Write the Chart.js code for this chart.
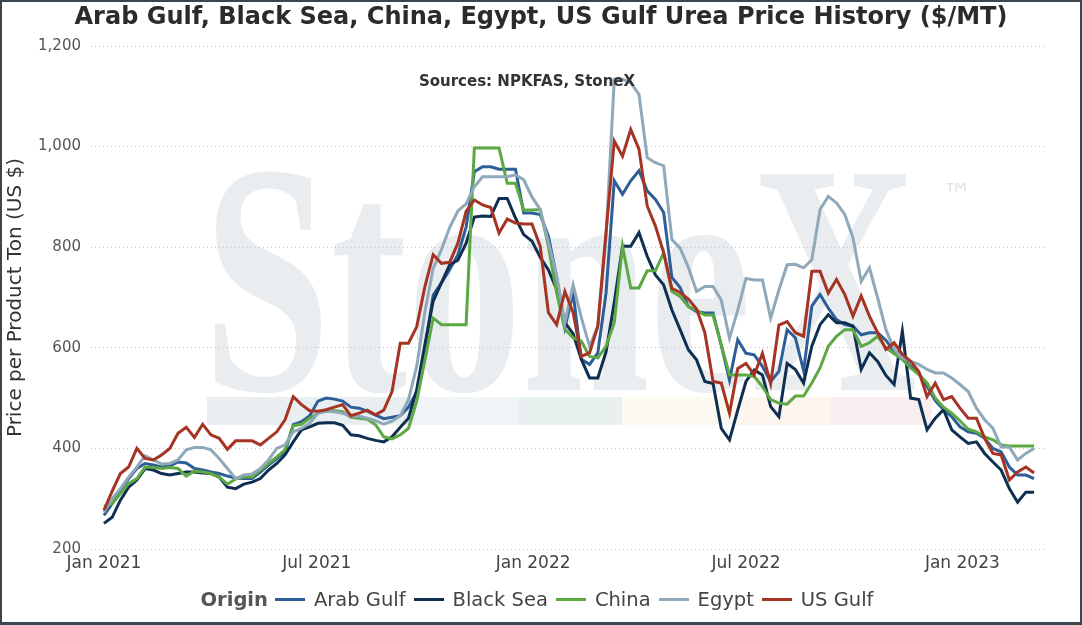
<!DOCTYPE html>
<html>
<head>
<meta charset="utf-8">
<script src="https://cdn.jsdelivr.net/npm/chart.js@4.4.0/dist/chart.umd.min.js"></script>
<style>
    html, body { margin: 0; padding: 0; background: #fff; }
    #wrap { position: relative; width: 1082px; height: 625px; overflow: hidden; }
    #frame { position: absolute; left: 0; top: 0; width: 1082px; height: 625px; box-sizing: border-box;
             border: 2px solid #3a4650; border-bottom-width: 3px; pointer-events: none; }
    #legend { position: absolute; left: 0; width: 1082px; top: 588px; display: flex; justify-content: center;
              align-items: center; font-family: "DejaVu Sans", sans-serif; font-size: 19.5px; color: #444; }
    #legend .title { font-weight: bold; color: #555; margin-right: 7px; }
    #legend .sample { display: inline-block; width: 30px; height: 3px; margin-right: 9px; }
    #legend .name { margin-right: 8px; }
</style>
</head>
<body>
<div id="wrap">
    <canvas id="ureaChart"></canvas>
    <div id="legend"></div>
    <div id="frame"></div>
</div>
<script>
const originNames = ["Arab Gulf", "Black Sea", "China", "Egypt", "US Gulf"];
const originColors = ["#2e5e98", "#0f2f52", "#5ca842", "#8fa8ba", "#a63424"];
const tickDays = [0, 181, 365, 546, 730];
const tickLabels = ["Jan 2021", "Jul 2021", "Jan 2022", "Jul 2022", "Jan 2023"];

// Wochenwerte ab 01.01.2021 ($/MT)
const arabGulf = [267, 290, 317, 340, 360, 370, 367, 363, 365, 373, 371, 360, 357, 353, 350, 345, 341, 340, 340, 353, 367, 380, 393, 447, 453, 465,
    494, 500, 498, 494, 482, 480, 474, 466, 459, 462, 465, 482, 512, 600, 705, 729, 755, 785, 840, 950, 960, 960, 955, 955, 955, 868, 868,
    865, 822, 740, 640, 709, 577, 567, 590, 709, 932, 905, 932, 952, 912, 895, 869,
    740, 720, 682, 672, 669, 669, 605, 536, 616, 589, 586, 563, 533, 553, 636,
    620, 554, 683, 706, 679, 656, 646, 643, 626, 630, 630, 615, 592, 578,
    563, 550, 523, 495, 477, 463, 443, 433, 430, 420, 400, 393, 363, 347, 347, 340];
const blackSea = [251, 263, 297, 323, 337, 360, 357, 350, 347, 350, 353, 353, 351, 350, 343, 323, 320, 329, 333, 340, 357, 370, 387, 413, 437, 443,
    450, 451, 451, 446, 427, 425, 420, 416, 413, 423, 442, 460, 517, 607, 693, 729, 765, 774, 808, 860, 862, 861, 897, 897, 858, 825, 812,
    780, 755, 716, 650, 628, 577, 540, 540, 592, 690, 802, 802, 829, 782, 745, 725,
    675, 636, 596, 576, 533, 529, 440, 417, 476, 533, 556, 546, 483, 463, 569,
    557, 530, 603, 646, 666, 650, 650, 643, 557, 590, 573, 545, 527, 633,
    500, 497, 437, 460, 477, 437, 423, 410, 413, 390, 373, 357, 320, 293, 313, 313];
const china = [285, 290, 310, 330, 340, 363, 362, 360, 362, 360, 345, 355, 353, 350, 343, 329, 339, 343, 343, 357, 370, 383, 397, 445, 448, 460,
    470, 475, 475, 473, 462, 460, 458, 447, 423, 419, 427, 440, 494, 576, 659, 646, 646, 646, 646, 997, 997, 997, 997, 927, 927, 874, 874,
    875, 802, 709, 637, 620, 613, 583, 580, 603, 650, 802, 719, 719, 753, 753, 789,
    712, 702, 682, 675, 665, 665, 606, 546, 546, 546, 543, 523, 497, 490, 488,
    504, 504, 530, 560, 603, 623, 636, 636, 603, 610, 623, 600, 588, 577,
    560, 547, 530, 500, 482, 470, 455, 438, 433, 423, 417, 407, 405, 405, 405, 405];
const egypt = [273, 300, 320, 343, 363, 385, 377, 369, 370, 377, 397, 402, 402, 397, 380, 360, 340, 347, 349, 360, 377, 400, 407, 433, 440, 450,
    470, 474, 473, 470, 464, 464, 460, 455, 448, 454, 465, 497, 563, 672, 758, 795, 839, 872, 886, 920, 940, 940, 940, 940, 944, 934, 900,
    875, 810, 743, 650, 725, 660, 603, 643, 820, 1134, 1134, 1127, 1104, 978, 968, 962,
    815, 798, 760, 712, 722, 722, 695, 619, 675, 738, 735, 735, 659, 715, 765,
    766, 759, 775, 875, 901, 888, 865, 819, 732, 759, 699, 636, 597, 580,
    573, 567, 557, 550, 550, 540, 527, 513, 480, 457, 440, 403, 403, 377, 390, 400];
const usGulf = [277, 315, 350, 363, 400, 380, 377, 387, 400, 430, 442, 422, 448, 427, 420, 398, 415, 415, 415, 407, 420, 433, 457, 503, 487, 475,
    474, 477, 482, 487, 465, 470, 476, 467, 476, 513, 609, 609, 642, 722, 785, 768, 770, 808, 871, 894, 884, 879, 828, 856, 848, 846, 846,
    802, 670, 646, 712, 670, 583, 590, 643, 830, 1011, 981, 1034, 995, 882, 842, 789,
    718, 710, 697, 677, 630, 533, 530, 470, 559, 569, 546, 589, 529, 645, 652,
    630, 623, 752, 752, 709, 736, 706, 663, 703, 663, 630, 597, 610, 587,
    573, 553, 503, 530, 497, 503, 480, 460, 460, 420, 390, 387, 337, 353, 363, 351];

const series = [arabGulf, blackSea, china, egypt, usGulf];
const fontFamily = '"DejaVu Sans", Verdana, sans-serif';

// Hintergrund: Band und StoneX-Schriftzug
const bandSegments = [
    [207, 415, "#e9eef1"], [415, 518, "#f0f5f8"], [518, 622, "#e9f0f0"],
    [622, 735, "#fcfaf0"], [735, 830, "#fcf6ee"], [830, 932, "#f9edef"]
];

const watermarkPlugin = {
    id: "watermark",
    afterLayout(chart) {
        // Titel über die ganze Breite zentrieren
        const t = chart.titleBlock;
        if (t) {
            t.left = 0;
            t.right = chart.width;
            t.width = chart.width;
        }
    },
    beforeDraw(chart) {
        const ctx = chart.ctx;
        ctx.save();
        bandSegments.forEach(([x0, x1, color]) => {
            ctx.fillStyle = color;
            ctx.fillRect(x0, 397, x1 - x0, 28);
        });
        ctx.font = 'bold 330px "Liberation Serif", serif';
        ctx.fillStyle = "#e9edf0";
        ctx.textBaseline = "alphabetic";
        const w = ctx.measureText("StoneX").width;
        ctx.translate(203, 390);
        ctx.scale(714 / w, 1);
        ctx.fillText("StoneX", 0, 0);
        ctx.restore();

        ctx.save();
        ctx.font = '30px "DejaVu Sans", sans-serif';
        ctx.fillStyle = "#dfe4e8";
        ctx.fillText("\u2122", 942, 205);
        ctx.restore();
    },
    afterDraw(chart) {
        const ctx = chart.ctx;
        ctx.save();
        ctx.font = "bold 15px " + fontFamily;
        ctx.fillStyle = "#333";
        ctx.textAlign = "center";
        ctx.textBaseline = "middle";
        ctx.fillText("Sources: NPKFAS, StoneX", 527, 82);
        ctx.restore();
    }
};

const datasets = series.map((values, i) => ({
    label: originNames[i],
    data: values.map((v, k) => ({ x: k * 7, y: v })),
    borderColor: originColors[i],
    backgroundColor: originColors[i],
    borderWidth: 3,
    pointRadius: 0,
    tension: 0,
    order: series.length - i
}));

const config = {
    type: "line",
    data: { datasets },
    options: {
        responsive: true,
        maintainAspectRatio: false,
        animation: false,
        layout: { padding: { left: 0, right: 35, top: 0, bottom: 0 } },
        plugins: {
            legend: { display: false },
            tooltip: { enabled: false },
            title: {
                display: true,
                text: "Arab Gulf, Black Sea, China, Egypt, US Gulf Urea Price History ($/MT)",
                color: "#2b2b2b",
                font: { family: fontFamily, size: 24, weight: "bold" },
                padding: { top: 3, bottom: 14.2 }
            }
        },
        scales: {
            x: {
                type: "linear",
                min: -11,
                max: 802,
                grid: { display: false, drawTicks: false },
                border: { display: false },
                afterFit: scale => { scale.height = 76; },
                afterBuildTicks: scale => { scale.ticks = tickDays.map(v => ({ value: v })); },
                ticks: {
                    padding: 4,
                    color: "#444",
                    font: { family: fontFamily, size: 17 },
                    maxRotation: 0,
                    callback: value => tickLabels[tickDays.indexOf(value)]
                }
            },
            y: {
                min: 200,
                max: 1200,
                afterFit: scale => { scale.width = 91; },
                grid: { color: "#c4c4c4", lineWidth: 1, drawTicks: false },
                border: { display: false, dash: [1, 3] },
                ticks: {
                    stepSize: 200,
                    padding: 10,
                    color: "#555",
                    font: { family: fontFamily, size: 15 },
                    callback: value => value.toLocaleString("en-US")
                },
                title: {
                    display: true,
                    text: "Price per Product Ton (US $)",
                    color: "#333",
                    font: { family: fontFamily, size: 20 },
                    padding: { top: 4, bottom: 4 }
                }
            }
        }
    },
    plugins: [watermarkPlugin]
};

function renderLegend() {
    const container = document.getElementById("legend");
    const title = document.createElement("span");
    title.classList.add("title");
    title.textContent = "Origin";
    container.appendChild(title);

    originNames.forEach((name, i) => {
        const sample = document.createElement("span");
        sample.classList.add("sample");
        sample.style.background = originColors[i];
        const label = document.createElement("span");
        label.classList.add("name");
        label.textContent = name;
        container.appendChild(sample);
        container.appendChild(label);
    });
}

const canvas = document.getElementById("ureaChart");
canvas.style.width = "1082px";
canvas.style.height = "625px";
renderLegend();
new Chart(canvas, config);
</script>
</body>
</html>
